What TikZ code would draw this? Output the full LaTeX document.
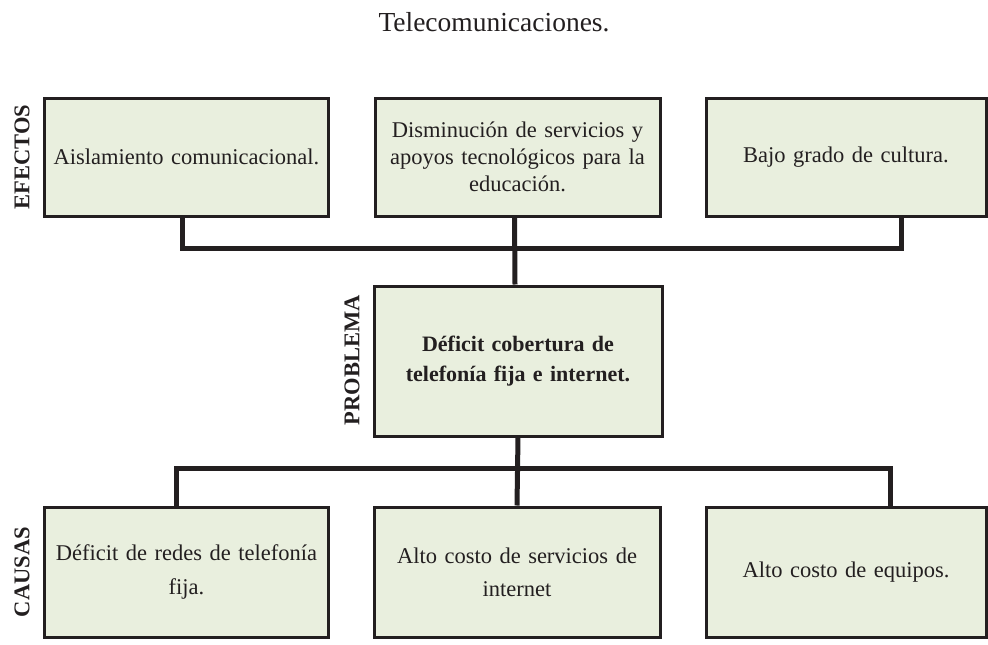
\documentclass[tikz,border=0pt]{standalone}
\usepackage{fontspec}
\setmainfont{Liberation Serif}
\definecolor{boxfill}{RGB}{233,239,222}
\definecolor{ink}{RGB}{35,31,32}
\begin{document}
\begin{tikzpicture}[x=1pt,y=-1pt,
  box/.style={draw=ink,line width=3pt,fill=boxfill,inner sep=4pt,align=center,
    font=\fontsize{22.5}{27}\selectfont,text=ink},
  conn/.style={draw=ink,line width=5pt},
  side/.style={rotate=90,font=\bfseries\fontsize{22.5}{26}\selectfont,text=ink}]
\useasboundingbox (0,0) rectangle (988,645);
\node[font=\fontsize{27.5}{30}\selectfont,text=ink] (title) at (494,22) {Telecomunicaciones.};
% effects
\node[box,minimum width=283pt,minimum height=118pt,text width=276pt] (e1) at (186.5,157) {Aislamiento comunicacional.};
\node[box,minimum width=285pt,minimum height=118pt,text width=276pt] (e2) at (517.5,157) {Disminución de servicios y\\apoyos tecnológicos para la\\educación.};
\node[box,minimum width=280pt,minimum height=118pt,text width=270pt] (e3) at (846,157) {Bajo grado de cultura.};
% problem
\node[box,minimum width=288pt,minimum height=150pt,text width=276pt,font=\bfseries\fontsize{22}{30}\selectfont] (p) at (518,361) {Déficit cobertura de\\telefonía fija e internet.};
% causes
\node[box,minimum width=283pt,minimum height=130pt,text width=276pt,font=\fontsize{22.5}{34}\selectfont] (c1) at (186.5,572) {Déficit de redes de telefonía\\fija.};
\node[box,minimum width=286pt,minimum height=130pt,text width=276pt,font=\fontsize{22.5}{33}\selectfont] (c2) at (517,572) {Alto costo de servicios de\\internet};
\node[box,minimum width=280pt,minimum height=130pt,text width=270pt] (c3) at (846,572) {Alto costo de equipos.};
% side labels
\node[side] (lef) at (22,157) {EFECTOS};
\node[side] (lpr) at (352,360) {PROBLEMA};
\node[side] (lca) at (22,572) {CAUSAS};
% connectors
\draw[conn] ([xshift=-4pt]e1.south) -- ++(0,31) -| ([xshift=55pt]e3.south);
\draw[conn] ([xshift=-3pt]e2.south) -- ([xshift=-3pt]p.north);
\draw[conn] ([xshift=-10pt]c1.north) -- ++(0,-37) -| ([xshift=44pt]c3.north);
\draw[conn] (p.south) -- (c2.north);
\end{tikzpicture}
\end{document}
